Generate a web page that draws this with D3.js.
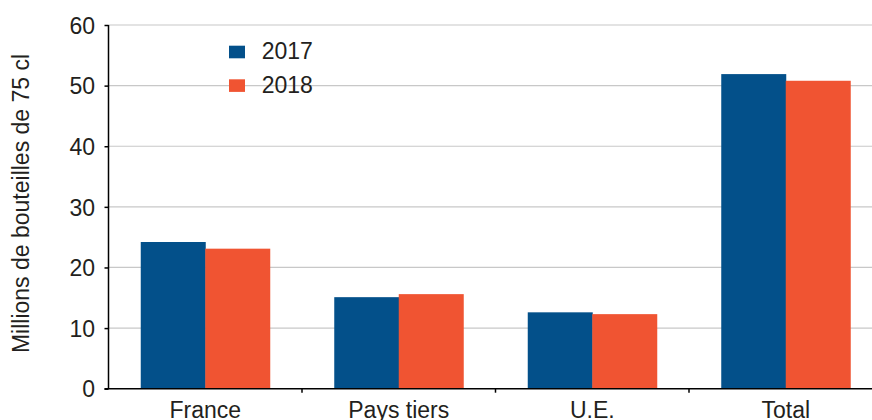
<!DOCTYPE html>
<html>
<head>
<meta charset="utf-8">
<script src="https://cdn.jsdelivr.net/npm/d3@7"></script>
<style>
  body { margin: 0; background: #fff; }
  svg text { font-family: "Liberation Sans", Arial, sans-serif; fill: #231f20; }
</style>
</head>
<body>
<div id="chart"></div>
<script>
const categories = ["France", "Pays tiers", "U.E.", "Total"];
const years = ["2017", "2018"];
const values2017 = [24.2, 15.1, 12.6, 51.9];
const values2018 = [23.1, 15.6, 12.3, 50.8];
const yTicks = [0, 10, 20, 30, 40, 50, 60];
const colors = ["#03508a", "#f05432"];

const [svgW, svgH] = [872, 420];
const [plotLeft, plotTop, plotBottom] = [108.5, 25, 388.7];
const fontSize = 23;

const svg = d3.select("#chart").append("svg")
    .attr("width", svgW).attr("height", svgH);

const x = d3.scaleBand().domain(categories).range([plotLeft, plotLeft + 4 * 193.5]).paddingInner(0).paddingOuter(0);
const xInner = d3.scaleBand().domain(years).range([0, x.bandwidth() * 2 / 3]);
const y = d3.scaleLinear().domain([0, 60]).range([plotBottom, plotTop]);

// grid lines
svg.append("g").selectAll("line").data(yTicks.filter(d => d > 0)).join("line")
    .attr("x1", plotLeft).attr("x2", svgW)
    .attr("y1", d => y(d)).attr("y2", d => y(d))
    .attr("stroke", "#c8c8c8").attr("stroke-width", 1.2);

// bars
const rows = categories.map((c, i) => ({ cat: c, vals: [values2017[i], values2018[i]] }));
const groups = svg.append("g").selectAll("g").data(rows).join("g")
    .attr("transform", d => `translate(${x(d.cat) + x.bandwidth() / 6},0)`);
groups.selectAll("rect").data(d => d.vals.map((v, j) => ({ year: years[j], v: v, j: j }))).join("rect")
    .attr("x", d => xInner(d.year))
    .attr("width", xInner.bandwidth() + 0.5)
    .attr("y", d => y(d.v))
    .attr("height", d => y(0) - y(d.v))
    .attr("fill", d => colors[d.j]);

// y axis
const yAxis = svg.append("g").attr("transform", `translate(${plotLeft},0)`)
    .call(d3.axisLeft(y).tickValues(yTicks).tickSize(4).tickPadding(9.5));
yAxis.select(".domain").attr("stroke", "#000").attr("stroke-width", 1.5).attr("d", `M0,${plotTop}V${plotBottom}`);
yAxis.selectAll(".tick line").attr("stroke", "#000").attr("stroke-width", 1.5);
yAxis.selectAll(".tick text").attr("font-size", fontSize).attr("fill", "#231f20").attr("dy", "0.36em");

// x axis
const xAxisG = svg.append("g").attr("transform", `translate(0,${plotBottom})`);
xAxisG.append("line").attr("x1", plotLeft - 4).attr("x2", svgW)
    .attr("stroke", "#000").attr("stroke-width", 1.5);
xAxisG.selectAll("line.tk").data(categories.slice(1)).join("line").attr("class", "tk")
    .attr("x1", d => x(d)).attr("x2", d => x(d))
    .attr("y1", 0).attr("y2", 4)
    .attr("stroke", "#000").attr("stroke-width", 1.5);
xAxisG.selectAll("text").data(categories).join("text")
    .attr("x", d => x(d) + x.bandwidth() / 2)
    .attr("y", 29.5)
    .attr("text-anchor", "middle")
    .attr("font-size", fontSize)
    .text(d => d);

// y title
svg.append("text")
    .attr("transform", `translate(28.5,203.5) rotate(-90)`)
    .attr("text-anchor", "middle")
    .attr("font-size", fontSize)
    .text("Millions de bouteilles de 75 cl");

// legend
const legend = svg.append("g").selectAll("g").data(years).join("g")
    .attr("transform", (d, i) => `translate(229,${45.7 + i * 33.6})`);
legend.append("rect").attr("width", 16).attr("height", 12.6).attr("fill", (d, i) => colors[i]);
legend.append("text").attr("x", 32.7).attr("y", 13.3).attr("font-size", fontSize).text(d => d);
</script>
</body>
</html>
